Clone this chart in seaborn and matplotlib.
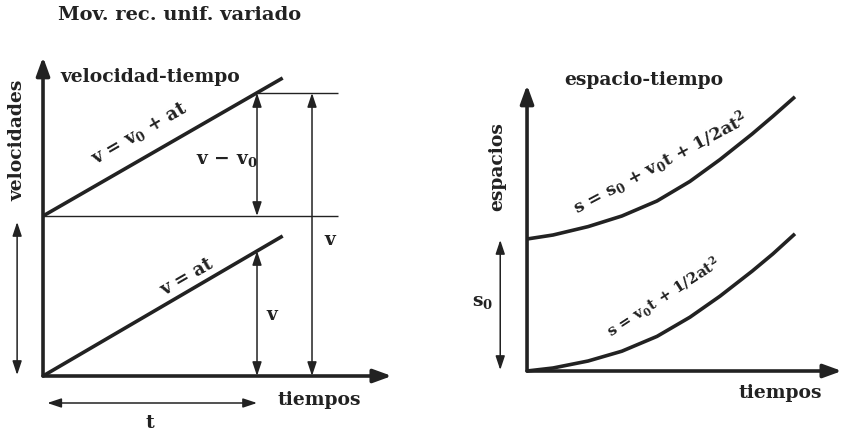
import matplotlib
matplotlib.use("Agg")
import matplotlib.pyplot as plt
import seaborn as sns

# Datos (unidades arbitrarias del esquema)
# velocidad-tiempo
t_lin = [0.0, 11.2]
v_upper = [8.0, 14.9]      # v = v0 + at
v_lower = [0.0, 7.0]       # v = at
v0 = 8.0
t_mark = 10.0
v_at_mark_upper = 14.15
v_at_mark_lower = 6.25

# espacio-tiempo
t_curve = [0.0, 0.97, 2.28, 3.54, 4.85, 6.08, 7.2, 8.4, 9.18, 10.0]
s_upper = [6.6, 6.8, 7.22, 7.75, 8.5, 9.48, 10.57, 11.85, 12.74, 13.71]   # s = s0 + v0t + 1/2at2
s_lower = [0.0, 0.15, 0.5, 0.99, 1.73, 2.69, 3.74, 4.99, 5.86, 6.86]      # s = v0t + 1/2at2
s0 = 6.55

INK = "#222222"
sns.set_style("white")
plt.rcParams["font.family"] = ["DejaVu Serif"]
plt.rcParams["font.weight"] = "bold"
plt.rcParams["mathtext.fontset"] = "custom"
plt.rcParams["mathtext.rm"] = "DejaVu Serif:bold"
plt.rcParams["mathtext.it"] = "DejaVu Serif:bold"
plt.rcParams["mathtext.bf"] = "DejaVu Serif:bold"

fig = plt.figure(figsize=(8.44, 4.32), dpi=100)
axL = fig.add_axes([0, 0, 0.5, 1])
axR = fig.add_axes([0.5, 0, 0.5, 1])
for ax in (axL, axR):
    ax.set_axis_off()

axL.set_xlim(-2.01, 17.71)
axL.set_ylim(-2.8, 18.8)
axR.set_xlim(-3.92, 11.83)
axR.set_ylim(-3.05, 18.55)

AXIS_ARROW = dict(arrowstyle="-|>,head_length=0.55,head_width=0.2",
                  mutation_scale=20, lw=2.6, color=INK, shrinkA=0, shrinkB=0)
THIN_ARROW = dict(arrowstyle="<|-|>,head_length=0.6,head_width=0.2",
                  mutation_scale=14, lw=1.1, color=INK, shrinkA=0, shrinkB=0)
FS = 13.5
LINE = dict(color=INK, lw=2.6, solid_joinstyle="round", solid_capstyle="butt")


def arrow(ax, p0, p1, props):
    ax.annotate("", xy=p1, xytext=p0, arrowprops=props)


# ---- panel izquierdo: velocidad-tiempo ----
arrow(axL, (0, 0), (16.3, 0), AXIS_ARROW)
arrow(axL, (0, 0), (0, 15.95), AXIS_ARROW)
sns.lineplot(x=t_lin, y=v_upper, ax=axL, **LINE)
sns.lineplot(x=t_lin, y=v_lower, ax=axL, **LINE)
axL.hlines(v0, 0, 13.8, color=INK, lw=1.0)
axL.hlines(v_at_mark_upper, t_mark, 13.8, color=INK, lw=1.0)
arrow(axL, (t_mark, v0), (t_mark, v_at_mark_upper), THIN_ARROW)
arrow(axL, (t_mark, 0), (t_mark, v_at_mark_lower), THIN_ARROW)
arrow(axL, (12.57, 0), (12.57, v_at_mark_upper), THIN_ARROW)
arrow(axL, (-1.21, 0.05), (-1.21, 7.7), THIN_ARROW)
arrow(axL, (0.2, -1.35), (t_mark, -1.35), THIN_ARROW)

axL.text(6.36, 18.05, "Mov. rec. unif. variado", ha="center", va="center", fontsize=14, color=INK)
axL.text(5.0, 14.95, "velocidad-tiempo", ha="center", va="center", fontsize=FS, color=INK)
axL.text(-1.21, 11.8, "velocidades", ha="center", va="center", rotation=90, fontsize=FS, color=INK)
axL.text(4.53, 12.15, r"v = v$_0$ + at", ha="center", va="center", rotation=30,
         rotation_mode="anchor", fontsize=13, color=INK)
axL.text(8.6, 10.8, r"v $-$ v$_0$", ha="center", va="center", fontsize=FS, color=INK)
axL.text(6.73, 4.95, "v = at", ha="center", va="center", rotation=30,
         rotation_mode="anchor", fontsize=13, color=INK)
axL.text(10.7, 3.05, "v", ha="center", va="center", fontsize=FS, color=INK)
axL.text(13.4, 6.8, "v", ha="center", va="center", fontsize=FS, color=INK)
axL.text(12.9, -1.2, "tiempos", ha="center", va="center", fontsize=FS, color=INK)
axL.text(5.0, -2.35, "t", ha="center", va="center", fontsize=FS, color=INK)

# ---- panel derecho: espacio-tiempo ----
arrow(axR, (0, 0), (11.75, 0), AXIS_ARROW)
arrow(axR, (0, 0), (0, 14.3), AXIS_ARROW)
sns.lineplot(x=t_curve, y=s_upper, ax=axR, **LINE)
sns.lineplot(x=t_curve, y=s_lower, ax=axR, **LINE)
arrow(axR, (-1.0, 0.05), (-1.0, s0), THIN_ARROW)

axR.text(4.37, 14.55, "espacio-tiempo", ha="center", va="center", fontsize=FS, color=INK)
axR.text(-1.12, 10.2, "espacios", ha="center", va="center", rotation=90, fontsize=FS, color=INK)
axR.text(-1.64, 3.45, r"s$_0$", ha="center", va="center", fontsize=FS, color=INK)
axR.text(9.44, -1.1, "tiempos", ha="center", va="center", fontsize=FS, color=INK)
axR.text(4.96, 10.4, r"s = s$_0$ + v$_0$t + 1/2at$^2$", ha="center", va="center",
         rotation=28, rotation_mode="anchor", fontsize=12.5, color=INK)
axR.text(5.1, 3.65, r"s = v$_0$t + 1/2at$^2$", ha="center", va="center",
         rotation=33, rotation_mode="anchor", fontsize=11, color=INK)

fig.savefig("out.png", dpi=100, facecolor="white")
